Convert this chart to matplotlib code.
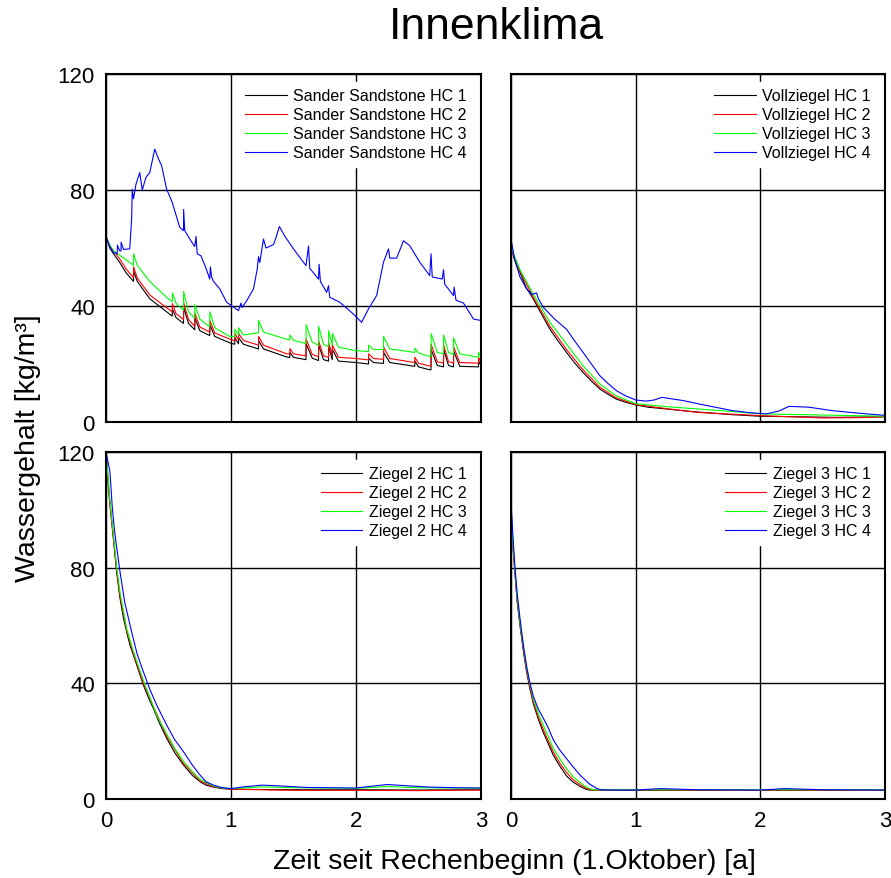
import numpy as np
import matplotlib
matplotlib.use("Agg")
import matplotlib.pyplot as plt

plt.rcParams['font.family'] = ['Liberation Sans', 'DejaVu Sans']

# ---- Sander Sandstone ----
ss_t = [0, 0.03, 0.06, 0.11, 0.16, 0.22, 0.221, 0.25, 0.35, 0.485, 0.53, 0.531, 0.56, 0.62, 0.621, 0.66,
        0.71, 0.711, 0.75, 0.83, 0.831, 0.87, 0.99, 1.03, 1.031, 1.06, 1.061, 1.1, 1.22, 1.221, 1.26,
        1.44, 1.47, 1.471, 1.5, 1.6, 1.601, 1.65, 1.70, 1.701, 1.74, 1.78, 1.781, 1.81, 1.811, 1.86,
        2.0, 2.1, 2.101, 2.14, 2.22, 2.221, 2.27, 2.47, 2.471, 2.5, 2.59, 2.6, 2.601, 2.65, 2.7, 2.701,
        2.74, 2.78, 2.781, 2.83, 2.98, 2.981, 3.0]
ss_hc1 = [64, 60, 58, 55, 51.5, 48.5, 52, 48.5, 42.5, 38, 36.5, 39, 36, 34, 39.5, 34,
          31.8, 36, 31.5, 29.8, 33.5, 29.5, 27.3, 26.8, 29, 27, 29, 26.8, 25.2, 28, 25.2,
          22.5, 22.2, 24, 22.3, 21.5, 27, 22, 21.2, 26.5, 21.5, 21, 26, 21.5, 25, 21,
          20.5, 20, 22, 20.5, 20.2, 24, 20.5, 19.2, 21, 19, 18, 18, 25, 19.5, 19, 25,
          19.5, 19, 24.5, 19.2, 19, 21, 19.5]
ss_hc2 = [64, 60.8, 59, 56.2, 52.8, 49.8, 53.5, 49.7, 43.8, 39.4, 38, 40.8, 37.4, 35.3, 41.2, 35.3,
          33, 37.5, 32.8, 31, 35, 30.7, 28.6, 28, 30.5, 28.3, 30.5, 28.1, 26.5, 29.5, 26.5,
          23.6, 23.4, 25.3, 23.5, 22.8, 28.6, 23.3, 22.5, 28, 22.8, 22.3, 27.5, 22.8, 26.5, 22.3,
          21.9, 21.4, 23.5, 21.9, 21.6, 25.8, 21.9, 20.5, 22.3, 20.3, 19.3, 19.3, 26.8, 20.8, 20.3, 26.6,
          20.8, 20.3, 26, 20.5, 20.3, 22.3, 20.5]
ss_hc3 = [64, 61, 59, 57.5, 56, 54, 58, 54, 48.5, 43, 41.5, 44.5, 41, 38.5, 45, 38,
          35.8, 40.5, 35.5, 32.8, 38, 32.5, 29.5, 29.5, 32, 30, 32.5, 30, 30.8, 35, 31,
          28.6, 28.3, 30, 28.2, 27, 33.5, 27.5, 26.5, 33, 26.8, 26, 31.5, 26.5, 30.5, 25.8,
          24.6, 24.3, 26.5, 25, 25, 29.5, 25.2, 24, 25.5, 23.8, 22.6, 22.6, 30.5, 24, 23.5, 30,
          24, 23.2, 29, 23.5, 22.3, 24, 22.5]
ss4_t = [0, 0.03, 0.06, 0.09, 0.091, 0.11, 0.12, 0.121, 0.14, 0.19, 0.205, 0.21, 0.22, 0.24, 0.27, 0.29,
         0.32, 0.35, 0.39, 0.42, 0.445, 0.485, 0.53, 0.59, 0.62, 0.621, 0.63, 0.67, 0.71, 0.72, 0.73,
         0.76, 0.80, 0.83, 0.835, 0.845, 0.86, 0.91, 0.965, 1.0, 1.06, 1.08, 1.09, 1.125, 1.18, 1.21,
         1.22, 1.23, 1.26, 1.28, 1.34, 1.36, 1.387, 1.43, 1.5, 1.60, 1.62, 1.63, 1.70, 1.705, 1.715,
         1.765, 1.78, 1.79, 1.87, 1.98, 2.045, 2.07, 2.1, 2.165, 2.22, 2.26, 2.27, 2.325, 2.38, 2.43,
         2.51, 2.59, 2.6, 2.61, 2.69, 2.70, 2.71, 2.78, 2.785, 2.8, 2.86, 2.94, 3.0]
ss_hc4 = [64, 60.5, 58.5, 58, 61, 59, 59, 62, 59.5, 59.7, 70, 80.3, 77, 82, 86, 80,
          84.4, 86, 94.1, 90.7, 88.4, 80.3, 75.7, 67.1, 66, 73.3, 66, 63.1, 60.5, 64, 58,
          57.3, 53, 49.3, 53.5, 50, 48.5, 45.9, 41.3, 40.2, 38.4, 41, 39.5, 41.8, 45.9, 52.8,
          57, 55, 63.1, 60, 61.2, 63.6, 67.4, 64.1, 59.7, 53.9, 60.7, 53, 49.3, 54.4, 48.5,
          44.7, 47, 43, 41.3, 37.2, 34.4, 36.5, 39, 43.6, 55.1, 59.7, 56.5, 56.5, 62.5, 60.8,
          55.1, 50.5, 58, 50, 49.3, 52.5, 47.5, 43.6, 46.5, 42, 41, 35.5, 35]

# ---- Vollziegel ----
vz_t1 = [0, 0.02, 0.05, 0.072, 0.12, 0.179, 0.25, 0.312, 0.38, 0.445, 0.51, 0.578, 0.645, 0.712,
         0.78, 0.845, 0.92, 1.0, 1.1, 1.245, 1.4, 1.51, 1.75, 1.99, 2.3, 2.6, 3.0]
vz_hc1 = [62, 57, 53.5, 51.6, 46.5, 42.4, 36.8, 32, 27.8, 24, 20.4, 17.1, 14.1, 11.4,
          9.5, 7.9, 6.8, 5.9, 5.1, 4.5, 3.8, 3.4, 2.6, 2.0, 1.8, 1.6, 1.8]
vz_t2 = [0, 0.02, 0.072, 0.179, 0.312, 0.445, 0.578, 0.712, 0.845, 1.0, 1.25, 1.5, 2.0, 2.5, 2.8, 3.0]
vz_hc2 = [62, 57.5, 52, 43, 33, 25, 18, 12, 8.3, 6.0, 4.6, 3.3, 2.2, 1.4, 1.5, 1.8]
vz_t3 = [0, 0.02, 0.072, 0.179, 0.312, 0.445, 0.578, 0.712, 0.845, 1.0, 1.245, 1.5, 1.78, 2.0, 2.5, 3.0]
vz_hc3 = [62, 58, 52.5, 44, 34.4, 26.9, 19.4, 13.1, 9, 6.3, 5.3, 4.5, 3.6, 2.8, 2.4, 2.0]
vz_t4 = [0, 0.03, 0.072, 0.125, 0.17, 0.205, 0.22, 0.26, 0.35, 0.445, 0.51, 0.578, 0.645, 0.712,
         0.78, 0.845, 0.92, 1.0, 1.085, 1.15, 1.21, 1.38, 1.51, 1.65, 1.78, 1.92, 2.05, 2.15, 2.23,
         2.39, 2.58, 2.85, 3.0]
vz_hc4 = [63, 56, 50, 45.9, 44, 44.5, 42.5, 39.5, 35.5, 32, 28, 24, 20, 16,
          13.2, 10.8, 9, 7.6, 7.2, 7.6, 8.5, 7.4, 6.2, 5, 3.9, 3.2, 2.8, 3.8, 5.4,
          5.1, 3.9, 2.8, 2.3]

# ---- Ziegel 2 ----
z2_t1 = [0, 0.01, 0.02, 0.032, 0.059, 0.085, 0.112, 0.14, 0.165, 0.19, 0.219, 0.26, 0.299, 0.34,
         0.379, 0.43, 0.485, 0.55, 0.619, 0.69, 0.752, 0.8, 0.859, 0.93, 1.0, 1.2, 1.5, 2.0, 2.5, 3.0]
z2_hc1 = [120, 113, 107, 101.6, 90, 78.6, 69.4, 62.5, 57.8, 53.5, 49.8, 44.5, 39.4, 35,
          31.3, 26, 21, 16, 11.8, 8.2, 6, 4.8, 4.1, 3.6, 3.4, 3.3, 3.2, 3.2, 3.1, 3.2]
z2_t2 = [0, 0.032, 0.059, 0.085, 0.112, 0.165, 0.219, 0.299, 0.379, 0.485, 0.619, 0.752, 0.859,
         1.0, 1.5, 2.0, 2.5, 3.0]
z2_hc2 = [120, 102, 90.5, 79.3, 70.2, 58.4, 50.4, 40, 32, 21.7, 12.3, 6.3, 4.2,
          3.4, 3.0, 3.0, 2.9, 3.1]
z2_t3 = [0, 0.032, 0.059, 0.085, 0.112, 0.165, 0.219, 0.299, 0.405, 0.485, 0.55, 0.619, 0.69,
         0.752, 0.859, 0.93, 1.0, 1.25, 1.5, 2.0, 2.25, 2.5, 3.0]
z2_hc3 = [120, 103, 91.5, 80.5, 71.5, 59, 51, 41, 29, 22.5, 17.5, 13, 9.5,
          6.8, 4.5, 3.8, 3.6, 4.2, 3.9, 3.7, 4.3, 3.9, 3.7]
z2_t4 = [0, 0.01, 0.032, 0.05, 0.07, 0.112, 0.15, 0.205, 0.25, 0.299, 0.35, 0.405, 0.485, 0.55,
         0.619, 0.69, 0.752, 0.8, 0.859, 0.93, 1.0, 1.1, 1.25, 1.4, 1.6, 1.8, 2.0, 2.1, 2.25, 2.4,
         2.6, 2.8, 3.0]
z2_hc4 = [120, 118, 113, 101, 92, 78.6, 68, 57.8, 50, 44, 38, 32.5, 25.6, 20.5,
          16.4, 11.8, 8.3, 6, 4.8, 3.9, 3.6, 4.2, 4.8, 4.5, 4.0, 3.9, 3.8, 4.3, 5.0, 4.6,
          4.1, 3.9, 3.8]

# ---- Ziegel 3 ----
z3_t = [0, 0.01, 0.02, 0.032, 0.05, 0.072, 0.1, 0.125, 0.15, 0.179, 0.22, 0.259, 0.3, 0.339,
        0.39, 0.445, 0.5, 0.56, 0.6, 0.63, 0.66, 0.685, 0.72, 0.8, 1.0, 1.2, 1.5, 2.0, 2.2, 2.5, 3.0]
z3_hc1 = [101, 92, 85, 78, 68, 60, 51, 44, 38.5, 33, 27.5, 23, 19, 15.2,
          11.5, 8, 5.8, 4.2, 3.4, 3.1, 3.1, 3.1, 3.1, 3.1, 3.0, 3.0, 3.0, 3.0, 3.0, 3.0, 3.0]
z3_hc2 = [98, 91, 84.5, 78, 68.5, 60.5, 51.5, 44.5, 39, 33.6, 28.3, 24, 20, 16.3,
          12.5, 9.2, 6.6, 4.8, 3.8, 3.3, 3.1, 3.1, 3.1, 3.1, 3.1, 3.1, 3.0, 3.0, 3.1, 3.0, 3.0]
z3_hc3 = [99, 92, 86, 79, 69.5, 61, 52.5, 45.5, 40, 34.5, 29.5, 25.5, 21.5, 17.5,
          14, 10.5, 7.6, 5.5, 4.2, 3.6, 3.2, 3.2, 3.2, 3.2, 3.2, 3.2, 3.2, 3.2, 3.2, 3.2, 3.2]
z3_hc4 = [103, 95, 88, 80, 71, 62.5, 53, 46, 40.5, 35.5, 31, 28, 24.5, 20.5,
          17, 14, 11, 8, 6.4, 5.2, 4.4, 3.7, 3.2, 3.1, 3.1, 3.6, 3.2, 3.1, 3.6, 3.2, 3.1]

colors = ['black', 'red', '#00ff00', 'blue']

panels = [
    ("Sander Sandstone", [(ss_t, ss_hc1), (ss_t, ss_hc2), (ss_t, ss_hc3), (ss4_t, ss_hc4)]),
    ("Vollziegel", [(vz_t1, vz_hc1), (vz_t2, vz_hc2), (vz_t3, vz_hc3), (vz_t4, vz_hc4)]),
    ("Ziegel 2", [(z2_t1, z2_hc1), (z2_t2, z2_hc2), (z2_t3, z2_hc3), (z2_t4, z2_hc4)]),
    ("Ziegel 3", [(z3_t, z3_hc1), (z3_t, z3_hc2), (z3_t, z3_hc3), (z3_t, z3_hc4)]),
]

W, H = 891, 879
fig = plt.figure(figsize=(W / 100, H / 100), dpi=100)

# axes boxes in pixels: left, top, right, bottom
boxes = [(106, 75, 481, 423), (511, 75, 885, 423), (106, 453, 481, 800), (511, 453, 885, 800)]

for i, ((name, series), (l, t, r, b)) in enumerate(zip(panels, boxes)):
    ax = fig.add_axes([l / W, 1 - b / H, (r - l) / W, (b - t) / H])
    for k, (tt, vv) in enumerate(series):
        ax.plot(tt, vv, color=colors[k], lw=0.8, label=f"{name} HC {k + 1}")
    ax.set_xlim(0, 3)
    ax.set_ylim(0, 120)
    ax.set_xticks([0, 1, 2, 3])
    ax.set_yticks([0, 40, 80, 120])
    ax.grid(True, color='black', lw=1.0)
    ax.set_axisbelow(True)
    ax.tick_params(length=0, labelsize=16, pad=8)
    if i % 2 == 1:
        ax.set_yticklabels([])
    if i < 2:
        ax.set_xticklabels([])
    for s in ax.spines.values():
        s.set_linewidth(1.5)
    leg = ax.legend(loc='upper right', fontsize=11.5, handlelength=2.6, handletextpad=0.4,
                    labelspacing=0.25, borderaxespad=0.5, frameon=True, fancybox=False,
                    framealpha=1, edgecolor='white', facecolor='white')
    leg.set_zorder(5)

fig.text(0.557, 0.969, "Innenklima", ha='center', va='center', fontsize=32)
fig.text(0.031, 0.49, "Wassergehalt [kg/m³]", ha='center', va='center', rotation=90, fontsize=20.5)
fig.text(0.577, 0.019, "Zeit seit Rechenbeginn (1.Oktober) [a]", ha='center', va='center', fontsize=20.5)

fig.savefig("out.png", dpi=100, facecolor='white')
